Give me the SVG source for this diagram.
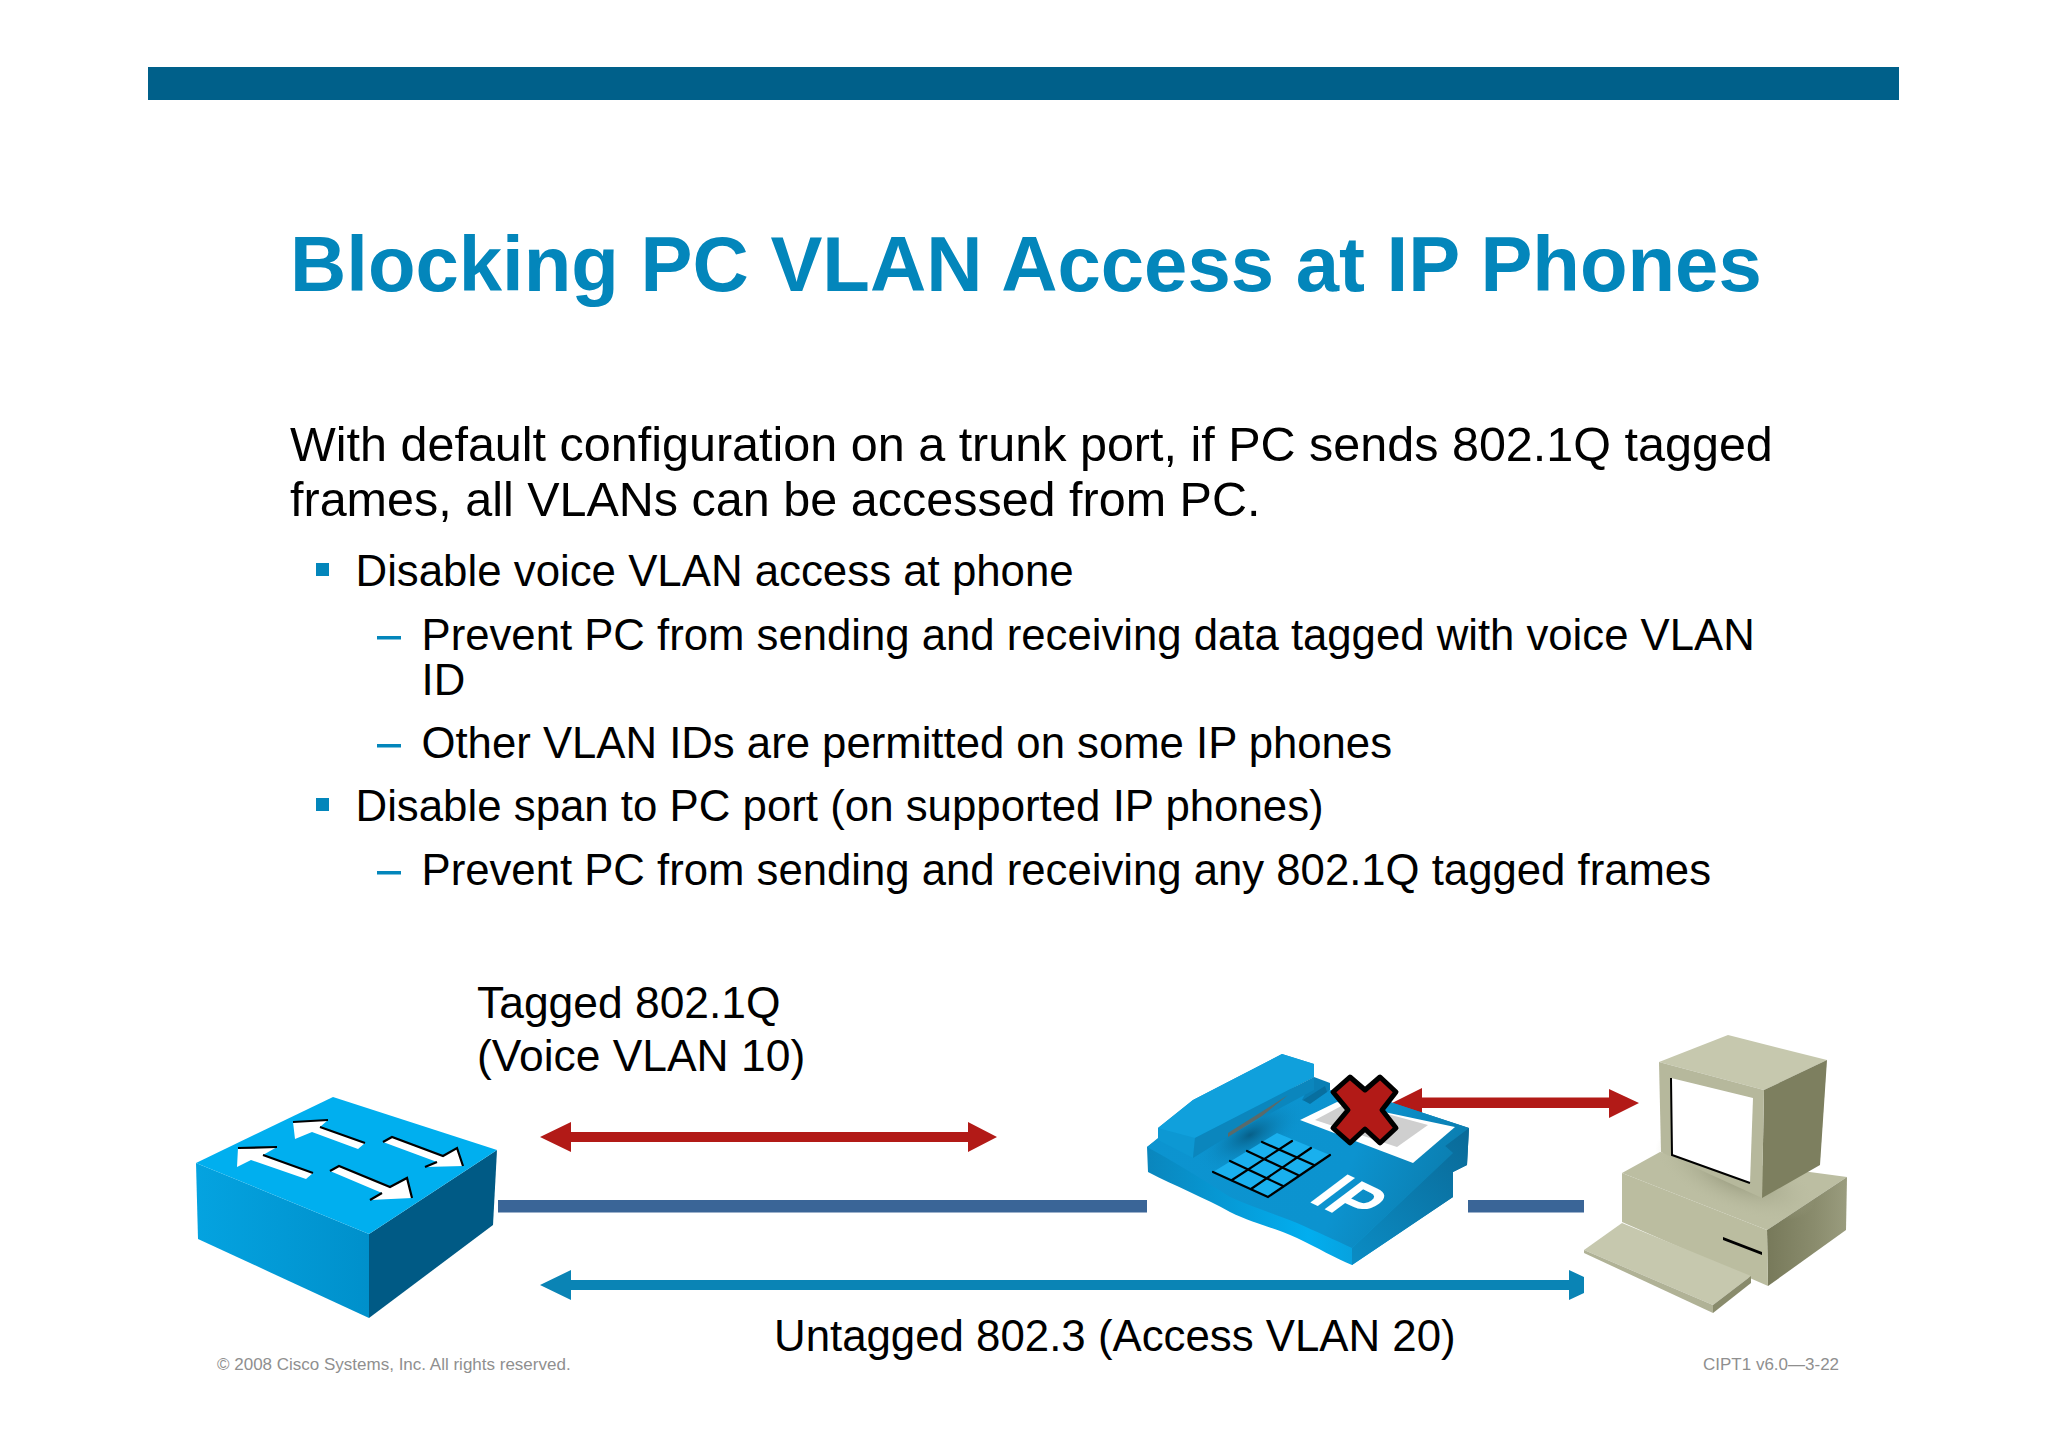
<svg xmlns="http://www.w3.org/2000/svg" width="2048" height="1447" viewBox="0 0 2048 1447">
<style>
text{font-family:"Liberation Sans",Arial,sans-serif;fill:#000}
.title{font-size:77.9px;font-weight:bold;fill:#0386bb}
.l1{font-size:48.5px}.l2{font-size:43.8px}.l3{font-size:43.7px}
.foot{font-size:17px;fill:#8f8f8f}
.lab{font-size:44.4px}
.lab2{font-size:43.8px}
.dash{fill:#0386bb}
.link{fill:#3a6597}
.red{fill:#b21a17}
.blue{fill:#0a84b5}
</style>
<defs>
<linearGradient id="swf" x1="0" x2="1" y1="0" y2="0"><stop offset="0" stop-color="#04a3e0"/><stop offset="1" stop-color="#0090cb"/></linearGradient>
<linearGradient id="phtop" x1="0" x2="1" y1="0" y2="0.2"><stop offset="0" stop-color="#0c94d0"/><stop offset="0.7" stop-color="#0c93cf"/><stop offset="1" stop-color="#0b7fb2"/></linearGradient>
<linearGradient id="phf" x1="0" x2="1" y1="0" y2="0"><stop offset="0" stop-color="#0a86bd"/><stop offset="0.5" stop-color="#02aeef"/><stop offset="0.66" stop-color="#08a0dc"/><stop offset="1" stop-color="#0b6f9f"/></linearGradient>
<linearGradient id="phs" x1="0" x2="1" y1="1" y2="0"><stop offset="0" stop-color="#0b8cc4"/><stop offset="1" stop-color="#0a6a98"/></linearGradient>
<linearGradient id="pcs" x1="0" x2="1" y1="0" y2="0"><stop offset="0" stop-color="#77795a"/><stop offset="0.6" stop-color="#8a8c6d"/><stop offset="1" stop-color="#9a9c7e"/></linearGradient>
<radialGradient id="shad" cx="0.5" cy="0.5" r="0.5"><stop offset="0" stop-color="#8f9175"/><stop offset="1" stop-color="#b9bb9f" stop-opacity="0"/></radialGradient>
<radialGradient id="hshad" cx="0.5" cy="0.5" r="0.5"><stop offset="0" stop-color="#075f88"/><stop offset="1" stop-color="#0c93cf" stop-opacity="0"/></radialGradient>
</defs>
<rect width="2048" height="1447" fill="#fff"/>
<rect id="topbar" x="148" y="67" width="1751" height="33" fill="#00608a"/>
<text class="title" x="290" y="291">Blocking PC VLAN Access at IP Phones</text>
<g id="body">
<text class="l1" x="290" y="461">With default configuration on a trunk port, if PC sends 802.1Q tagged</text>
<text class="l1" x="290" y="516">frames, all VLANs can be accessed from PC.</text>
<rect class="dash" x="316" y="563" width="13" height="13"/>
<text class="l2" x="355.5" y="586">Disable voice VLAN access at phone</text>
<rect class="dash" x="377" y="636" width="24" height="3.5"/>
<text class="l3" x="421.5" y="649.5">Prevent PC from sending and receiving data tagged with voice VLAN</text>
<text class="l3" x="421.5" y="694.5">ID</text>
<rect class="dash" x="377" y="744" width="24" height="3.5"/>
<text class="l3" x="421.5" y="758">Other VLAN IDs are permitted on some IP phones</text>
<rect class="dash" x="316" y="798" width="13" height="13"/>
<text class="l2" x="355.5" y="821">Disable span to PC port (on supported IP phones)</text>
<rect class="dash" x="377" y="871" width="24" height="3.5"/>
<text class="l3" x="421.5" y="884.5">Prevent PC from sending and receiving any 802.1Q tagged frames</text>
</g>
<text class="lab" x="477" y="1018">Tagged 802.1Q</text>
<text class="lab" x="477" y="1071">(Voice VLAN 10)</text>
<text class="lab2" x="774" y="1351">Untagged 802.3 (Access VLAN 20)</text>
<text class="foot" x="217" y="1369.5">© 2008 Cisco Systems, Inc. All rights reserved.</text>
<text class="foot" x="1703" y="1369.5">CIPT1 v6.0—3-22</text>
<g id="connectors">
<rect class="link" x="498" y="1200" width="649" height="12.5"/>
<rect class="link" x="1468" y="1200" width="116" height="12.5"/>
<path class="red" d="M540 1137L571 1122V1132H968V1122L997 1137L968 1152V1142H571V1152Z"/>
<path class="red" d="M1392 1103L1422 1088V1097.5H1609V1089L1639 1103L1609 1118V1108H1422V1118Z"/>
<path class="blue" d="M540 1285L571 1270V1280H1569V1270L1584 1277V1293L1569 1300V1290H571V1300Z"/>
</g>
<g id="switch">
<path d="M196 1163L369 1234V1318L198 1239Z" fill="url(#swf)"/>
<path d="M369 1234L497 1150L493 1225L369 1318Z" fill="#005a85"/>
<path d="M196 1163L333 1097L497 1150L369 1234Z" fill="#00afef"/>
<g fill="#fff">
<path d="M238 1148L277 1147L263 1155L313 1173L306 1179L251 1160L237 1167Z"/>
<path d="M293 1122L328 1120L320 1127L365 1143L358 1149L312 1132L295 1139Z"/>
<path d="M383 1142L392 1137L443 1156L457 1148L463 1166L425 1167L437 1162Z"/>
<path d="M330 1171L339 1166L390 1187L407 1178L412 1198L370 1200L382 1193Z"/>
</g>
<g fill="none" stroke="#000" stroke-width="2.2">
<path d="M238 1148L277 1147M263 1155L313 1173"/>
<path d="M293 1122L328 1120M320 1127L365 1143"/>
<path d="M383 1142L392 1137L443 1156L457 1148L463 1166M425 1167L437 1162"/>
<path d="M330 1171L339 1166L390 1187L407 1178L412 1198M370 1200L382 1193"/>
</g>
</g>
<g id="phone">
<path d="M1147 1147L1148 1172C1175 1186 1205 1198 1230 1212C1255 1224 1275 1228 1297 1238C1318 1248 1335 1258 1352 1265L1453 1197V1172L1467 1165L1469 1128L1390 1102L1330 1090L1170 1130Z" fill="url(#phf)"/>
<path d="M1352 1248L1453 1153L1445 1146L1469 1128L1467 1165L1453 1172V1197L1352 1265Z" fill="url(#phs)"/>
<path d="M1147 1147L1158 1138L1300 1085L1390 1102L1469 1128L1445 1146L1453 1153L1352 1248C1335 1240 1315 1231 1297 1223C1275 1214 1255 1208 1230 1197C1200 1178 1175 1162 1147 1147Z" fill="url(#phtop)"/>
<ellipse cx="1250" cy="1135" rx="60" ry="28" transform="rotate(-28 1250 1135)" fill="url(#hshad)"/>
<path d="M1314 1077L1330 1083V1090L1310 1103L1302 1100Z" fill="#0a7fb5"/>
<path d="M1303 1100L1325 1086L1327 1092L1310 1104Z" fill="#086f9f"/>
<path d="M1158 1128L1193 1100L1282 1054L1314 1064L1314 1077L1195 1138L1193 1158L1158 1140Z" fill="#0d98d3"/>
<path d="M1195 1138L1314 1077V1064L1282 1054L1193 1100L1158 1128Z" fill="#10a0dc"/>
<path d="M1195 1138L1314 1077V1090L1230 1135L1193 1158Z" fill="#0b86bd"/>
<path d="M1228 1133L1288 1095L1262 1116L1228 1137Z" fill="#5a6a6a"/>
<path d="M1300 1120L1337 1102L1455 1127L1413 1163Z" fill="#fff"/>
<path d="M1315 1120L1347 1103L1428 1125L1397 1147Z" fill="#cfcfcf"/>
<path d="M1213 1172L1277 1133L1330 1155L1268 1197Z" fill="#19b0ee"/>
<g stroke="#000" stroke-width="2.2" fill="none" stroke-linecap="round">
<path d="M1213 1172L1268 1197L1330 1155"/>
<path d="M1230 1161L1283 1186M1247 1151L1298 1175M1262 1142L1314 1165"/>
<path d="M1232 1180L1292 1141M1251 1189L1311 1148"/>
</g>
<text transform="matrix(0.85 0.4 -0.9 0.68 1307 1201)" font-size="60" font-weight="bold" style="fill:#fff">IP</text>
<path d="M1333 1092L1350 1077L1365 1090L1380 1077L1396 1092L1382 1110L1396 1128L1380 1143L1365 1129L1350 1143L1333 1128L1348 1110Z" class="red" stroke="#000" stroke-width="5" stroke-linejoin="round"/>
</g>
<g id="pc">
<path d="M1622 1173L1660 1152L1847 1177L1767 1230Z" fill="#bcbea2"/>
<path d="M1767 1230L1847 1177L1846 1230L1768 1286Z" fill="url(#pcs)"/>
<path d="M1622 1173L1767 1230L1768 1286L1622 1222Z" fill="#bbbda0"/>
<ellipse cx="1735" cy="1175" rx="85" ry="35" transform="rotate(22 1735 1175)" fill="url(#shad)"/>
<path d="M1659 1062L1728 1035L1827 1060L1764 1090Z" fill="#c6c8ae"/>
<path d="M1764 1090L1827 1060L1820 1165L1762 1198Z" fill="#7d7f5f"/>
<path d="M1659 1062L1764 1090L1762 1198L1661 1152Z" fill="#b6b89c"/>
<path d="M1671 1078L1753 1098L1750 1183L1672 1155Z" fill="#fff"/>
<path d="M1671 1078L1672 1155L1750 1183" fill="none" stroke="#000" stroke-width="2"/>
<path d="M1723 1237L1762 1252V1255L1723 1240Z" fill="#000"/>
<path d="M1584 1250L1622 1223L1751 1276L1713 1305Z" fill="#c6c8ae"/>
<path d="M1584 1250L1713 1305V1313L1584 1253Z" fill="#b0b296"/>
<path d="M1713 1305L1751 1276V1283L1713 1313Z" fill="#898b6c"/>
</g>
</svg>
